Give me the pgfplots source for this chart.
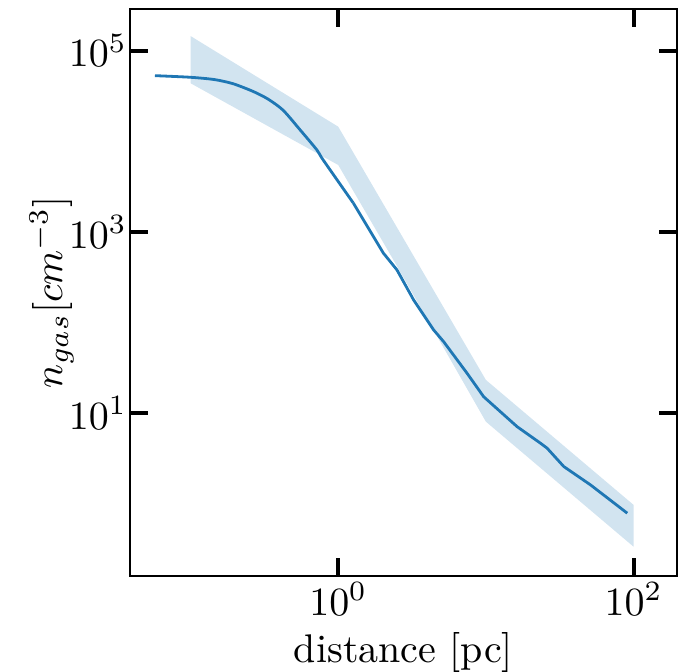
\documentclass[border=0pt]{standalone}
\usepackage{pgfplots}
\pgfplotsset{compat=1.18}
\usepgfplotslibrary{fillbetween}
\definecolor{c0}{HTML}{1F77B4}
\begin{document}
\begin{tikzpicture}
\begin{axis}[
  xmode=log, ymode=log,
  scale only axis, width=136.75pt, height=141.75pt,
  xmin=0.0389, xmax=197, ymin=0.160, ymax=288400,
  xtick={1,100}, ytick={10,1000,100000},
  minor xtick={}, minor ytick={},
  minor tick length=0pt,
  tick align=inside, major tick length=4.5pt,
  every tick/.style={black, line width=1pt},
  axis line style={line width=0.5pt},
  xticklabel style={inner sep=1pt, yshift=-0.5pt},
  yticklabel style={inner sep=0.6pt},
  xlabel={distance [pc]},
  ylabel={$n_{gas}[cm^{-3}]$},
  xlabel style={inner sep=2pt, yshift=-1pt},
  ylabel style={inner sep=1pt},
  ylabel shift=-3pt,
  clip=true,
]
\addplot[name path=upper, draw=none, forget plot] coordinates {
(0.1,1.45e5) (1,1.45e4) (10,23.3) (100,0.975)};
\addplot[name path=lower, draw=none, forget plot] coordinates {
(0.1,4.37e4) (1,5480) (2.43,455) (10,8.07) (100,0.337)};
\addplot[c0, fill opacity=0.2, draw=none, fill=c0] fill between[of=upper and lower];
\addplot[c0, line width=0.7pt, no marks, smooth, tension=0.45] coordinates {
(0.0574,5.30e4) (0.0992,5.09e4) (0.145,4.80e4) (0.194,4.32e4) (0.2653,3.55e4)
(0.335,2.92e4) (0.4238,2.20e4) (0.5526,1.334e4) (0.7172,8030)
(0.791,6230) (1.264,2090)};
\addplot[c0, line width=0.7pt, no marks] coordinates {
(1.264,2090) (2.019,586) (2.500,381) (3.240,178)
(4.427,83.0) (5.175,61.6) (7.458,27.6) (9.663,15.2) (16.27,7.11)
(23.42,4.67) (26.0,4.11) (33.7,2.58) (51.1,1.62) (90.7,0.789)};
\end{axis}
\pgfresetboundingbox
\path[use as bounding box] ([shift={(-32.5pt,-23.75pt)}]current axis.south west) rectangle ([shift={(1pt,2.25pt)}]current axis.north east);
\end{tikzpicture}
\end{document}
